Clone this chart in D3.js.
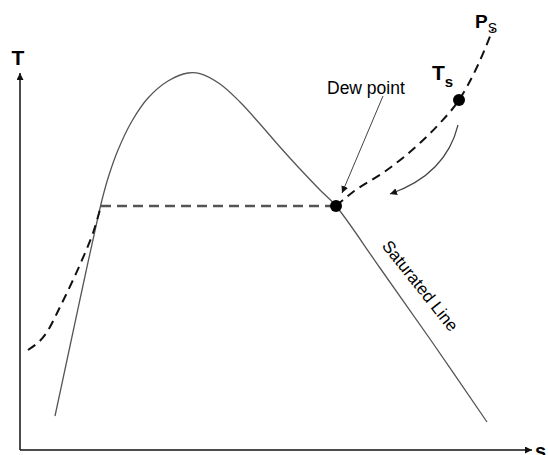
<!DOCTYPE html>
<html>
<head>
<meta charset="utf-8">
<script src="https://cdn.jsdelivr.net/npm/d3@7"></script>
<style>
	body { margin: 0; background: #fff; }
	svg { display: block; font-family: Arial, "Liberation Sans", sans-serif; }
</style>
</head>
<body>
<div id="chart"></div>
<script>
// saturation dome (entropy s, temperature T), arbitrary units
const domeS = [0.70, 0.94, 1.24, 1.56, 1.66, 1.78, 1.96, 2.24, 2.56, 2.96, 3.36, 3.6, 4.0, 4.4, 4.8, 5.2, 5.6, 6.0, 6.32, 7.2, 8.2, 9.34]
const domeT = [0.85, 2.25, 4.0, 5.825, 6.35, 6.875, 7.5, 8.225, 8.8, 9.225, 9.425, 9.41, 9.15, 8.7, 8.15, 7.575, 7.025, 6.5, 6.1, 4.55, 2.775, 0.7]

// isobar Ps : liquid part, flat two-phase part, vapour part
const liquidS = [0.16, 0.54, 0.80, 1.06, 1.30, 1.46, 1.62]
const liquidT = [2.5, 2.95, 3.575, 4.25, 4.925, 5.425, 6.1]
const flatS = [1.62, 6.32]
const flatT = [6.1, 6.1]
const vapourS = [6.32, 6.66, 7.34, 8.0, 8.4, 8.78, 9.14, 9.46]
const vapourT = [6.1, 6.45, 7.0, 7.675, 8.175, 8.75, 9.575, 10.525]

// marked states
const pointNames = ["Dew point", "Ts"]
const pointS = [6.32, 8.78]
const pointT = [6.1, 8.75]

// axes extent
const sMax = 10.24
const tMax = 9.425

const svgWidth = 548
const svgHeight = 455

let x = d3.scaleLinear().domain([0, 10]).range([20, 520])
let y = d3.scaleLinear().domain([0, 10]).range([450, 50])

let svg = d3.select("#chart")
	.append("svg")
	.attr("width", svgWidth)
	.attr("height", svgHeight)

let defs = svg.append("defs")
defs.append("marker")
	.attr("id", "arrow")
	.attr("viewBox", "0 0 10 10")
	.attr("refX", 10)
	.attr("refY", 5)
	.attr("markerWidth", 7)
	.attr("markerHeight", 7)
	.attr("markerUnits", "userSpaceOnUse")
	.attr("orient", "auto")
	.append("path")
	.attr("d", "M0,0 L10,5 L0,10 z")
	.attr("fill", "#111")

const zip = (a, b) => a.map((v, i) => [v, b[i]])
let line = d3.line().x(d => x(d[0])).y(d => y(d[1]))

// axes
svg.append("line")
	.attr("x1", x(0)).attr("y1", y(0))
	.attr("x2", x(0)).attr("y2", y(tMax))
	.attr("stroke", "#111").attr("stroke-width", 1.5)
	.attr("marker-end", "url(#arrow)")
svg.append("line")
	.attr("x1", x(0)).attr("y1", y(0))
	.attr("x2", x(sMax)).attr("y2", y(0))
	.attr("stroke", "#111").attr("stroke-width", 1.5)
	.attr("marker-end", "url(#arrow)")

svg.append("text")
	.attr("x", x(0) - 2).attr("y", 65)
	.attr("text-anchor", "middle")
	.attr("font-size", "21px").attr("font-weight", "bold")
	.text("T")
svg.append("text")
	.attr("x", x(sMax) + 3).attr("y", y(0) + 8)
	.attr("font-size", "20px").attr("font-weight", "bold")
	.text("s")

// dome
svg.append("path")
	.datum(zip(domeS, domeT))
	.attr("fill", "none")
	.attr("stroke", "#555")
	.attr("stroke-width", 1.3)
	.attr("d", line.curve(d3.curveCatmullRom))

// isobar
svg.append("path")
	.datum(zip(liquidS, liquidT))
	.attr("fill", "none")
	.attr("stroke", "#111")
	.attr("stroke-width", 2)
	.attr("stroke-dasharray", "9,6")
	.attr("d", line.curve(d3.curveMonotoneX))
svg.append("path")
	.datum(zip(flatS, flatT))
	.attr("fill", "none")
	.attr("stroke", "#555")
	.attr("stroke-width", 2.5)
	.attr("stroke-dasharray", "10,6")
	.attr("d", line.curve(d3.curveLinear))
svg.append("path")
	.datum(zip(vapourS, vapourT))
	.attr("fill", "none")
	.attr("stroke", "#111")
	.attr("stroke-width", 2)
	.attr("stroke-dasharray", "9,6")
	.attr("d", line.curve(d3.curveMonotoneX))

// state points
svg.selectAll("circle.state")
	.data(pointNames)
	.enter()
	.append("circle")
	.attr("class", "state")
	.attr("cx", (d, i) => x(pointS[i]))
	.attr("cy", (d, i) => y(pointT[i]))
	.attr("r", 6)
	.attr("fill", "#000")

// dew point label + pointer
svg.append("text")
	.attr("x", x(6.14)).attr("y", y(8.9))
	.attr("font-size", "17.5px")
	.text("Dew point")
svg.append("line")
	.attr("x1", x(7.26)).attr("y1", y(8.85))
	.attr("x2", x(6.44)).attr("y2", y(6.425))
	.attr("stroke", "#444").attr("stroke-width", 1)
	.attr("marker-end", "url(#arrow)")

// cooling direction arrow
let p0 = [8.76, 8.125], c = [8.52, 6.89], p1 = [7.4, 6.4]
svg.append("path")
	.attr("d", `M${x(p0[0])},${y(p0[1])} Q${x(c[0])},${y(c[1])} ${x(p1[0])},${y(p1[1])}`)
	.attr("fill", "none")
	.attr("stroke", "#444").attr("stroke-width", 1.2)
	.attr("marker-end", "url(#arrow)")

// Ts label
let ts = svg.append("text")
	.attr("x", x(8.24)).attr("y", y(9.25))
	.attr("font-size", "21px").attr("font-weight", "bold")
ts.append("tspan").text("T")
ts.append("tspan").attr("font-size", "15px").attr("dy", 7).text("s")

// Ps label
let ps = svg.append("text")
	.attr("x", x(9.1)).attr("y", y(10.55))
	.attr("font-size", "19px").attr("font-weight", "bold")
ps.append("tspan").text("P")
ps.append("tspan").attr("font-size", "14px").attr("font-weight", "normal").attr("dy", 5).text("S")

// saturated line label
svg.append("text")
	.attr("transform", "translate(" + x(8.0) + "," + y(4.1) + ") rotate(51.5)")
	.attr("text-anchor", "middle")
	.attr("dominant-baseline", "central")
	.attr("font-size", "17px")
	.text("Saturated Line")
</script>
</body>
</html>
